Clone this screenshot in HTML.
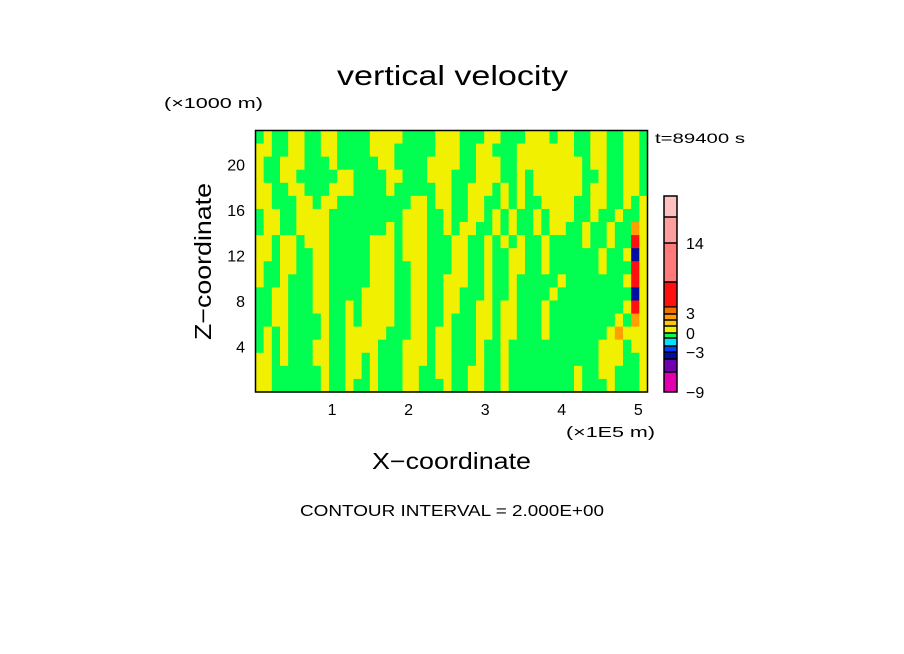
<!DOCTYPE html>
<html><head><meta charset="utf-8"><style>
html,body{margin:0;padding:0;background:#fff;}
svg{display:block;font-family:"Liberation Sans",sans-serif;}
</style></head><body>
<svg id="chart" width="904" height="654" viewBox="0 0 904 654">
<text x="337" y="85" font-size="28" textLength="231" lengthAdjust="spacingAndGlyphs" fill="#000">vertical velocity</text>
<text x="164" y="108" font-size="15" textLength="99" lengthAdjust="spacingAndGlyphs" fill="#000">(×1000 m)</text>
<text x="655" y="143" font-size="14" textLength="90" lengthAdjust="spacingAndGlyphs" fill="#000">t=89400 s</text>
<g id="field"></g>
<rect x="255.5" y="130.5" width="392" height="261.5" fill="none" stroke="#000" stroke-width="1.5"/>
<g id="xticks"></g>
<g id="yticks"></g>
<text x="566" y="437" font-size="15" textLength="89" lengthAdjust="spacingAndGlyphs" fill="#000">(×1E5 m)</text>
<text x="372" y="469" font-size="23" textLength="159" lengthAdjust="spacingAndGlyphs" fill="#000">X−coordinate</text>
<text transform="translate(211,340) rotate(-90)" font-size="23" textLength="157" lengthAdjust="spacingAndGlyphs" fill="#000">Z−coordinate</text>
<text x="300" y="516" font-size="16" textLength="304" lengthAdjust="spacingAndGlyphs" fill="#000">CONTOUR INTERVAL = 2.000E+00</text>
<g>
<rect x="664" y="196" width="13" height="21" fill="#ffc0c0"/>
<rect x="664" y="217" width="13" height="26" fill="#ff9e9e"/>
<rect x="664" y="243" width="13" height="39" fill="#ff7a7a"/>
<rect x="664" y="282" width="13" height="25" fill="#ff1010"/>
<rect x="664" y="308" width="13" height="6" fill="#f07000"/>
<rect x="664" y="314" width="13" height="6" fill="#ffa000"/>
<rect x="664" y="320" width="13" height="6" fill="#ffc800"/>
<rect x="664" y="326" width="13" height="7" fill="#f0f000"/>
<rect x="664" y="333" width="13" height="5" fill="#00ff50"/>
<rect x="664" y="338" width="13" height="8" fill="#00e0ff"/>
<rect x="664" y="346" width="13" height="6" fill="#0040ff"/>
<rect x="664" y="352" width="13" height="7" fill="#0010a0"/>
<rect x="664" y="359" width="13" height="13" fill="#7000b0"/>
<rect x="664" y="372" width="13" height="20" fill="#e000b0"/>
<g stroke="#000" stroke-width="1.5">
<rect x="664" y="196" width="13" height="196" fill="none"/>
<line x1="664" y1="217" x2="677" y2="217"/><line x1="664" y1="243" x2="677" y2="243"/>
<line x1="664" y1="282" x2="677" y2="282"/><line x1="664" y1="307" x2="677" y2="307"/>
<line x1="664" y1="314" x2="677" y2="314"/><line x1="664" y1="320" x2="677" y2="320"/>
<line x1="664" y1="326" x2="677" y2="326"/><line x1="664" y1="333" x2="677" y2="333"/>
<line x1="664" y1="338" x2="677" y2="338"/><line x1="664" y1="346" x2="677" y2="346"/>
<line x1="664" y1="352" x2="677" y2="352"/><line x1="664" y1="359" x2="677" y2="359"/>
<line x1="664" y1="372" x2="677" y2="372"/>
</g>
<g font-size="16" fill="#000">
<text x="686" y="249">14</text><text x="686" y="319">3</text><text x="686" y="339">0</text>
<text x="686" y="358">−3</text><text x="686" y="398">−9</text>
</g>
</g>
</svg>
<script>
const xTickValues=[1,2,3,4,5];
const yTickValues=[4,8,12,16,20];
const xDomain=[0,5.12];
const zDomain=[0,23];
const fieldRows=[
"GYGGYYGGYYGGGGYYYYGGGGYYYGGGYYGGGYYYGYYGGYYGGYYG",
"YYGGYYGGYYGGGGYYYGGGGGYYYGGYYGGGYYYYYYYGGYYGGYYG",
"YGGYYYGGGYGGGGGYYGGGGYYYYGGYYYGGYYYYYYYYGYYGGYYG",
"YGGYYGGGGGYYGGGGYYGGGYYYGGGYYYGGYGYYYYYYGGYGGYYG",
"YYGGYYGGGYYYGGGGYGGGGGYYGGYYYGYGYGYYYYYYGYYGGYYG",
"YYGGGYYGYYGGGGGGGGGYYGYYGGYYGGYGYGGYYYYGGYYGGYGY",
"GYYGGYYYYGGGGGGGGGYYYGGYGGYYGYGYGGYGYYYGGYGGYGGY",
"GYYGGYYYYGGGGGGGYGYYYGGYGYYGGYGYGGYGYYGGYGGYGGOY",
"YYGYYGYYYGGGGGYYYGYYYGGGYYGGYGYGYGGYGGGGYGGYGGRY",
"YYGYYGGYYGGGGGYYYGYYYGGGYYGGYGGYYGGYGGGGGGYGGYBY",
"YGGYYGGYYGGGGGYYYGGYYGGGYYGGYGGYYGGYGGGGGGYGGGRY",
"YGGYGGGYYGGGGGYYYGGYYGGYYYGGYGGYGGGGGYGGGGGGGYRY",
"GGYYGGGYYGGGGYYYYGGYYGGYYGGGYGGYGGGGYGGGGGGGGGBY",
"GGYYGGGYYGGYGYYYYGGYYGGYYGGYYGYYGGGYGGGGGGGGGYRY",
"GGYYGGGGYGGYGYYYYGGYYGGYGGGYYGYYGGGYGGGGGGGGYGOY",
"GYGYGGGGYGGYYYYYGGGYYGYYGGGYYGYYGGGYGGGGGGGYOYYY",
"GYGYGGGYYGGYYYYGGGYYYGYYGGGYGGYGGGGGGGGGGGYYYGYY",
"YYGYGGGYYGGYYGYGGGYYYGYYGGGYGGYGGGGGGGGGGGYYYGGY",
"YYGGGGGGYGGYYGYGGGYYGGYYGGYYGGYGGGGGGGGYGGYYGGGY",
"YYGGGGGGYGGYGGYGGGYYGGGYGGYYGGYGGGGGGGGYGGGYGGGY"
];
const codeValues={G:-1,Y:1,O:3,R:6,B:-5};
const levelBounds=[-9,-7,-5,-3,-2,0,1,2,3,4,6,10,14];
const levelColors=["#e000b0","#7000b0","#0010a0","#0040ff","#00e0ff","#00ff50","#f0f000","#ffc800","#ffa000","#f07000","#ff1010","#ff7a7a","#ff9e9e","#ffc0c0"];
const PX0=255.5,PX1=647.5,PY0=392,PY1=130.5;
function xScale(v){return PX0+(v-xDomain[0])/(xDomain[1]-xDomain[0])*(PX1-PX0);}
function zScale(v){return PY0-(v-zDomain[0])/(zDomain[1]-zDomain[0])*(PY0-PY1);}
function colorFor(v){let i=0;while(i<levelBounds.length&&v>levelBounds[i])i++;return levelColors[i];}
const NS="http://www.w3.org/2000/svg";
const field=document.getElementById('field');
const nRows=fieldRows.length;
fieldRows.forEach((row,r)=>{
  const nCols=row.length;
  const z1=zDomain[1]-r*(zDomain[1]-zDomain[0])/nRows, z0=z1-(zDomain[1]-zDomain[0])/nRows;
  for(let c=0;c<nCols;c++){
    const xv0=xDomain[0]+c*(xDomain[1]-xDomain[0])/nCols, xv1=xv0+(xDomain[1]-xDomain[0])/nCols;
    const v=codeValues[row[c]]; if(v===undefined)continue;
    const el=document.createElementNS(NS,'rect');
    
    
    const x0=xScale(xv0),x1=xScale(xv1),y0=zScale(z1),y1=zScale(z0);
    el.setAttribute('x',x0.toFixed(2));el.setAttribute('y',y0.toFixed(2));
    el.setAttribute('width',(x1-x0+0.6).toFixed(2));el.setAttribute('height',(y1-y0+0.6).toFixed(2));
    el.setAttribute('fill',colorFor(v));
    field.appendChild(el);
  }
});
const xt=document.getElementById('xticks');
xTickValues.forEach(v=>{
  const t=document.createElementNS(NS,'text');
  
  
  t.setAttribute('x',xScale(v));t.setAttribute('y',415);t.setAttribute('font-size','16');
  t.setAttribute('text-anchor','middle');t.textContent=v;xt.appendChild(t);
});
const yt=document.getElementById('yticks');
yTickValues.forEach(v=>{
  const t=document.createElementNS(NS,'text');
  
  
  t.setAttribute('x',245);t.setAttribute('y',zScale(v)+6);t.setAttribute('font-size','16');
  t.setAttribute('text-anchor','end');t.textContent=v;yt.appendChild(t);
});
</script>
</body></html>
